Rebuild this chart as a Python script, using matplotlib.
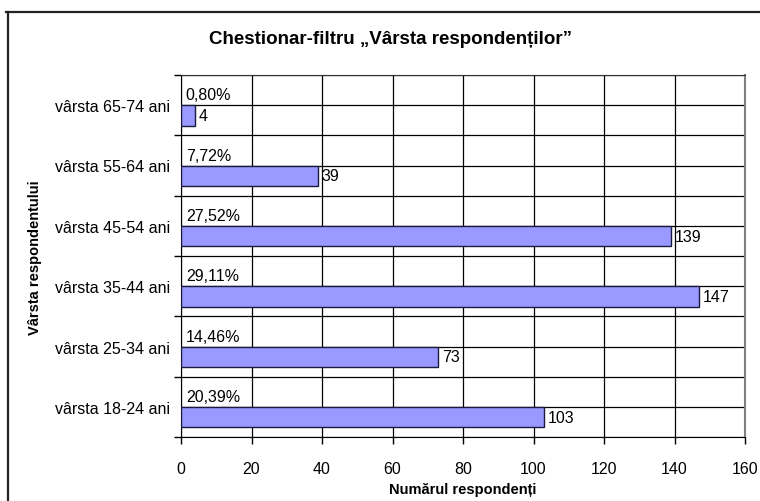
import matplotlib.pyplot as plt
from matplotlib.lines import Line2D

plt.rcParams['font.family'] = ['Liberation Sans', 'DejaVu Sans']

# Data (bottom to top)
categories = ['vârsta 18-24 ani', 'vârsta 25-34 ani', 'vârsta 35-44 ani',
              'vârsta 45-54 ani', 'vârsta 55-64 ani', 'vârsta 65-74 ani']
counts = [103, 73, 147, 139, 39, 4]
percents = [20.39, 14.46, 29.11, 27.52, 7.72, 0.80]
x_ticks = [0, 20, 40, 60, 80, 100, 120, 140, 160]

fig = plt.figure(figsize=(7.6, 5.02), dpi=100)
ax = fig.add_axes([181 / 760, 1 - 438 / 502, 564 / 760, 362 / 502])

n = len(categories)
pos = [i + 0.5 for i in range(n)]
bar_h = 0.34

ax.barh([p - bar_h / 2 for p in pos], counts, height=bar_h,
        color='#9999FF', edgecolor='#1a1a40', linewidth=1.0, zorder=3)

for p, c, pct in zip(pos, counts, percents):
    ax.annotate(str(c), xy=(c, p - bar_h / 2), xytext=(2.5, 0),
                textcoords='offset points', ha='left', va='center',
                fontsize=11.5, zorder=4)
    ax.annotate(f'{pct:.2f}%'.replace('.', ','), xy=(0, p + bar_h / 2),
                xytext=(3.5, 0), textcoords='offset points', ha='left',
                va='center', fontsize=11.5, zorder=4)

ax.set_xlim(0, 160)
ax.set_ylim(0, n)
ax.set_xticks(x_ticks)
ax.set_xticklabels([str(t) for t in x_ticks], fontsize=11.5)

# category boundaries as major ticks, labels on minor ticks
ax.set_yticks(range(n + 1))
ax.set_yticklabels([])
ax.set_yticks(pos, minor=True)
ax.set_yticklabels(categories, minor=True, fontsize=11.5)
ax.tick_params(axis='y', which='major', length=5, direction='out', width=1)
ax.tick_params(axis='y', which='minor', length=0, pad=8)
ax.tick_params(axis='x', length=5, direction='out', width=1, pad=12)

ax.grid(True, axis='x', color='black', linewidth=0.9, zorder=0)
ax.grid(True, axis='y', which='both', color='black', linewidth=0.9, zorder=0)
ax.set_axisbelow(True)

ax.spines['left'].set_color('black')
ax.spines['bottom'].set_color('black')
ax.spines['top'].set_color('#333333')
ax.spines['right'].set_color('#808080')
ax.spines['right'].set_linewidth(1.5)

fig.text(390 / 760, 1 - 40 / 502, 'Chestionar-filtru \u201eVârsta respondenților\u201d',
         ha='center', va='center', fontsize=13.5, fontweight='bold')
fig.text(463 / 760, 1 - 490 / 502, 'Numărul respondenți',
         ha='center', va='center', fontsize=10.5, fontweight='bold')
fig.text(35 / 760, 1 - 258 / 502, 'Vârsta respondentului', rotation=90,
         ha='center', va='center', fontsize=10.5, fontweight='bold')

# outer frame (top and left edges)
top_y = 1 - 13 / 502
fig.add_artist(Line2D([6 / 760, 1], [top_y, top_y], color='#222222', linewidth=1.6))
fig.add_artist(Line2D([8 / 760, 8 / 760], [0, top_y], color='#222222', linewidth=1.6))

plt.savefig('out.png', dpi=100)
